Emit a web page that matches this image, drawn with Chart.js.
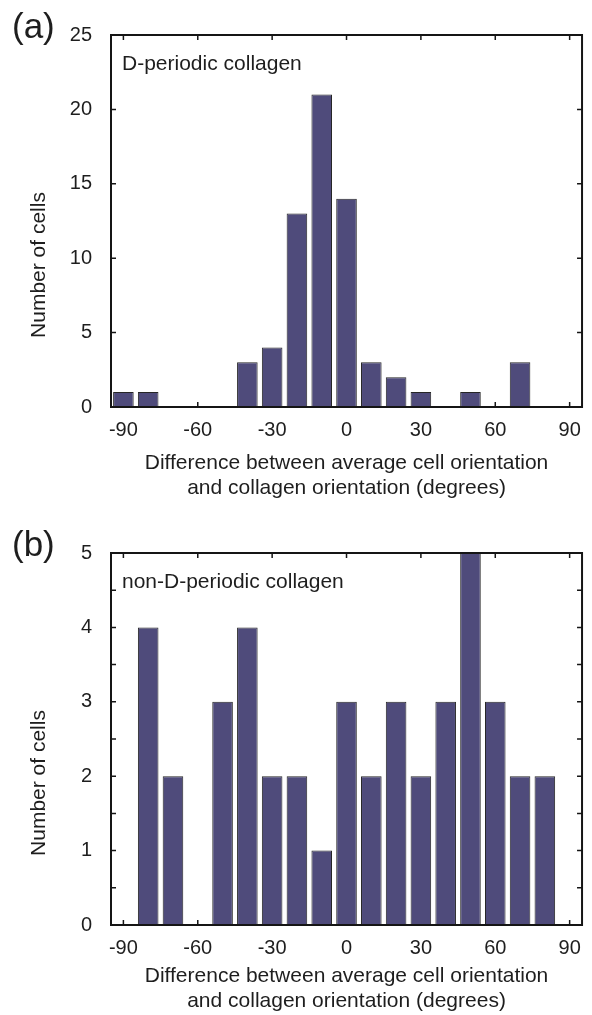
<!DOCTYPE html>
<html>
<head>
<meta charset="utf-8">
<script src="https://cdn.jsdelivr.net/npm/chart.js@4.4.1/dist/chart.umd.min.js"></script>
<style>
  html, body { margin: 0; padding: 0; background: #fff; }
  .panel { position: relative; width: 592px; }
  #panelA { height: 500px; }
  #panelB { height: 515px; }
</style>
</head>
<body>
<div class="panel" id="panelA"><canvas id="chartA"></canvas></div>
<div class="panel" id="panelB"><canvas id="chartB"></canvas></div>
<script>
// bin centres (degrees) and counts
const binsA = [-90, -80, -70, -60, -50, -40, -30, -20, -10, 0, 10, 20, 30, 40, 50, 60, 70, 80, 90];
const countsA = [1, 1, 0, 0, 0, 3, 4, 13, 21, 14, 3, 2, 1, 0, 1, 0, 3, 0, 0];

const binsB = [-80, -70, -60, -50, -40, -30, -20, -10, 0, 10, 20, 30, 40, 50, 60, 70, 80];
const countsB = [4, 2, 0, 3, 4, 2, 2, 1, 3, 2, 3, 2, 3, 5, 3, 2, 2];

const xTickValues = [-90, -60, -30, 0, 30, 60, 90];
const xTitle = ['Difference between average cell orientation', 'and collagen orientation (degrees)'];

Chart.defaults.font.family = "'Liberation Sans', Arial, Helvetica, sans-serif";
Chart.defaults.color = '#1e1e1e';

const barFill = '#4f4b7b';
const barEdge = '#262626';
const ink = '#151515';

// inward ticks on all four sides, frame on top of the bars, panel texts
const frameAndTicks = {
  id: 'frameAndTicks',
  beforeDatasetsDraw(chart) {
    const { ctx, chartArea: a, scales: { x, y } } = chart;
    ctx.save();
    ctx.strokeStyle = ink;
    ctx.lineWidth = 1.5;
    ctx.beginPath();
    x.ticks.forEach(t => {
      const px = x.getPixelForValue(t.value);
      ctx.moveTo(px, a.bottom); ctx.lineTo(px, a.bottom - 5);
      ctx.moveTo(px, a.top); ctx.lineTo(px, a.top + 5);
    });
    y.ticks.forEach(t => {
      const py = y.getPixelForValue(t.value);
      ctx.moveTo(a.left, py); ctx.lineTo(a.left + 5, py);
      ctx.moveTo(a.right, py); ctx.lineTo(a.right - 5, py);
    });
    ctx.stroke();
    ctx.restore();
  },
  afterDatasetsDraw(chart, args, opts) {
    const { ctx, chartArea: a } = chart;
    ctx.save();
    ctx.strokeStyle = ink;
    ctx.lineWidth = 2;
    ctx.strokeRect(a.left, a.top, a.right - a.left, a.bottom - a.top);

    ctx.fillStyle = '#1e1e1e';
    ctx.textBaseline = 'alphabetic';
    ctx.textAlign = 'left';
    ctx.font = "35px 'Liberation Sans', Arial, sans-serif";
    ctx.fillText(opts.panel, 12, a.top + 3);

    ctx.font = "21px 'Liberation Sans', Arial, sans-serif";
    ctx.fillText(opts.note, a.left + 11, a.top + 35);

    ctx.translate(45, (a.top + a.bottom) / 2 + 44);
    ctx.rotate(-Math.PI / 2);
    ctx.textAlign = 'center';
    ctx.fillText(opts.yTitle, 0, 0);
    ctx.restore();
  }
};

function makeHistogram(canvasId, bins, counts, yMax, yStep, texts, pad) {
  return new Chart(document.getElementById(canvasId), {
    type: 'bar',
    data: {
      datasets: [{
        data: bins.map((b, i) => ({ x: b, y: counts[i] || null })),
        backgroundColor: barFill,
        borderColor: barEdge,
        borderWidth: 1,
        borderSkipped: false,
        categoryPercentage: 1,
        barPercentage: 0.83
      }]
    },
    options: {
      responsive: true,
      maintainAspectRatio: false,
      animation: false,
      layout: { padding: { top: pad.top, right: 9, left: 0, bottom: pad.bottom } },
      plugins: {
        legend: { display: false },
        tooltip: { enabled: false },
        frameAndTicks: texts
      },
      scales: {
        x: {
          type: 'linear',
          min: -95,
          max: 95,
          offset: false,
          grid: { display: false, drawTicks: false, offset: false },
          border: { display: false },
          afterBuildTicks: s => { s.ticks = xTickValues.map(v => ({ value: v })); },
          afterFit: s => { s.height = pad.xHeight; },
          ticks: {
            autoSkip: false,
            maxRotation: 0,
            padding: 11,
            font: { size: 20 }
          },
          title: {
            display: true,
            text: xTitle,
            font: { size: 21, lineHeight: 1.17 },
            padding: { top: 0, bottom: pad.titleBottom }
          }
        },
        y: {
          min: 0,
          max: yMax,
          grid: { display: false, drawTicks: false },
          border: { display: false },
          afterFit: s => { s.width = 111; },
          ticks: {
            stepSize: yStep,
            padding: 19,
            font: { size: 20 },
            callback: v => (Number.isInteger(v) && v % (yStep < 1 ? 1 : yStep) === 0 ? v : '')
          }
        }
      }
    },
    plugins: [frameAndTicks]
  });
}

makeHistogram('chartA', binsA, countsA, 25, 5,
  { panel: '(a)', note: 'D-periodic collagen', yTitle: 'Number of cells' },
  { top: 35, bottom: 0, xHeight: 93, titleBottom: 0 });

makeHistogram('chartB', binsB, countsB, 5, 0.5,
  { panel: '(b)', note: 'non-D-periodic collagen', yTitle: 'Number of cells' },
  { top: 53, bottom: 0, xHeight: 90, titleBottom: 2 });
</script>
</body>
</html>
